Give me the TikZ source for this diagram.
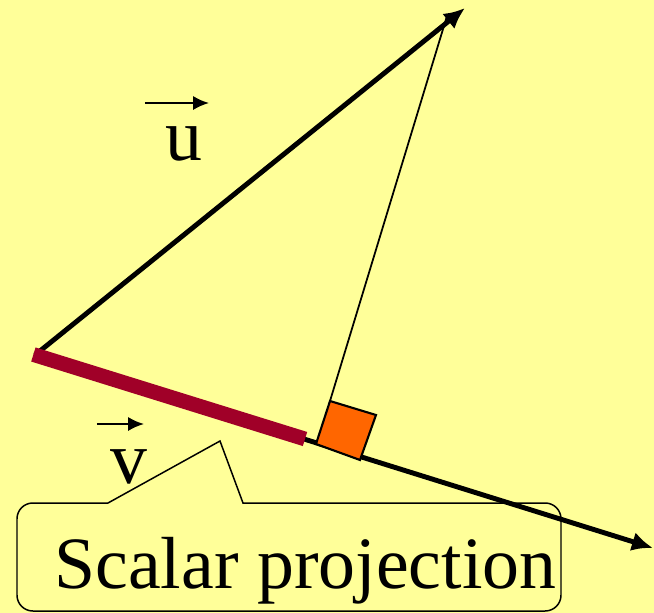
\documentclass[tikz,border=0pt]{standalone}
\usepackage{fontspec}
\setmainfont{Liberation Serif}
\usepackage{tikz}
\usetikzlibrary{arrows.meta,calc}
\definecolor{bgyellow}{RGB}{255,255,153}
\definecolor{projred}{RGB}{160,0,40}
\definecolor{sqorange}{RGB}{255,102,0}
\tikzset{
  vecline/.style ={-{Latex[length=12pt,width=11pt]},line width=2.8pt},
  thinline/.style={line width=1pt},
  projbar/.style ={draw=projred,line width=8.4pt},
  rightsq/.style ={draw=black,fill=sqorange,line width=1.2pt},
  overarr/.style ={-{Latex[length=9pt,width=8pt]},line width=1.2pt},
  callout/.style ={draw=black,fill=bgyellow,line width=0.85pt},
  biglbl/.style  ={font=\fontsize{42}{48}\selectfont,inner sep=0pt,anchor=base west},
}
\begin{document}
\begin{tikzpicture}[x=0.02cm,y=-0.02cm]
\fill[bgyellow] (0,0) rectangle (654,613);
\useasboundingbox (0,0) rectangle (654,613);

% points of the figure
\coordinate (O) at (35,355);
\coordinate (utip) at (465,8);
\coordinate (vtip) at (653,548);
\coordinate (ubase) at (447,16);
\coordinate (foot) at (330,401);
\coordinate (barend) at (305,439);

% callout box
\draw[callout] (243,503) [rounded corners=9pt] -- (561,503) -- (561,611) -- (17,611) -- (17,503) [sharp corners] -- (108,503) -- (220,441) -- cycle;
\node[biglbl] (proj) at (54,588) {Scalar projection};

% vectors
\draw[thinline] (ubase) -- (foot);
\draw[vecline] (O) -- (vtip);
\draw[vecline] (O) -- (utip);
\draw[projbar] ($(O)!-0.006!(barend)$) -- (barend);
\draw[rightsq] (foot) -- (376,415) -- (360,460) -- (316,444) -- cycle;

% labels
\node[biglbl] (ulbl) at (165,160) {u};
\coordinate (ua) at (145,103);
\coordinate (ub) at (209,103);
\draw[overarr] (ua) -- (ub);
\node[biglbl] (vlbl) at (110,483) {v};
\coordinate (va) at (97,424);
\coordinate (vb) at (144,424);
\draw[overarr] (va) -- (vb);
\end{tikzpicture}
\end{document}
